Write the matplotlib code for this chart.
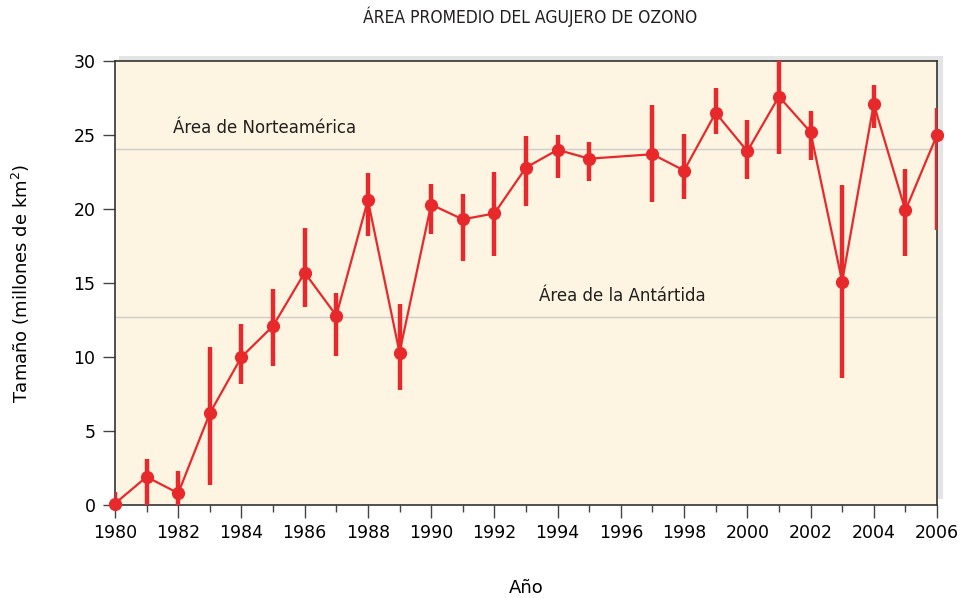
import matplotlib.pyplot as plt
from matplotlib.patches import Rectangle

# datos (1996 sin dato)
years = [1980, 1981, 1982, 1983, 1984, 1985, 1986, 1987, 1988, 1989, 1990,
         1991, 1992, 1993, 1994, 1995, 1997, 1998, 1999, 2000, 2001, 2002,
         2003, 2004, 2005, 2006]
area = [0.1, 1.9, 0.8, 6.2, 10.0, 12.1, 15.7, 12.8, 20.6, 10.3, 20.3,
        19.3, 19.7, 22.8, 24.0, 23.4, 23.7, 22.6, 26.5, 23.9, 27.6, 25.2,
        15.1, 27.1, 19.9, 25.0]
err_hi = [0.9, 3.1, 2.3, 10.7, 12.2, 14.6, 18.7, 14.3, 22.4, 13.6, 21.7,
          21.0, 22.5, 24.9, 25.0, 24.5, 27.0, 25.1, 28.2, 26.0, 30.5, 26.6,
          21.6, 28.4, 22.7, 26.8]
err_lo = [0.0, 0.0, 0.0, 1.35, 8.2, 9.4, 13.4, 10.1, 18.2, 7.8, 18.3,
          16.5, 16.8, 20.2, 22.1, 21.9, 20.5, 20.7, 25.1, 22.0, 23.7, 23.3,
          8.6, 25.5, 16.8, 18.6]

north_america = 24.05
antarctica = 12.7

red = '#e8292b'

fig = plt.figure(figsize=(9.63, 5.98), dpi=100)
ax = fig.add_axes([0.1194, 0.1555, 0.8536, 0.7425])

# sombra gris clara detrás del marco
shadow = Rectangle((0.1194 + 0.004, 0.1555 + 0.01), 0.8536 + 0.002, 0.7425 - 0.002,
                   transform=fig.transFigure, facecolor='#e4e4e4', edgecolor='none',
                   zorder=-1)
fig.patches.append(shadow)

ax.set_facecolor('#fdf4e1')

ax.axhline(north_america, color='#cccccc', lw=1, zorder=1)
ax.axhline(antarctica, color='#cccccc', lw=1, zorder=1)
ax.text(1981.85, 25.5, 'Área de Norteamérica', fontsize=12, color='#231f20',
        va='center', ha='left')
ax.text(1993.4, 14.1, 'Área de la Antártida', fontsize=12, color='#231f20',
        va='center', ha='left')

ax.vlines(years, err_lo, err_hi, color=red, lw=3.2, zorder=3)
ax.plot(years, area, color=red, lw=1.6, marker='o', markersize=8.5, zorder=4,
        clip_on=False)

ax.set_xlim(1980, 2006)
ax.set_ylim(0, 30)
ax.set_xticks(range(1980, 2007, 2))
ax.set_xticks(range(1981, 2006, 2), minor=True)
ax.set_yticks(range(0, 31, 5))
ax.tick_params(axis='x', which='major', length=9, width=1, direction='out',
               labelsize=12.5, pad=5, color='#444444')
ax.tick_params(axis='x', which='minor', length=5, width=1, direction='out',
               color='#444444')
ax.tick_params(axis='y', length=9, width=1, direction='out', labelsize=12.5,
               pad=5, color='#444444')
for s in ax.spines.values():
    s.set_color('#333333')
    s.set_linewidth(1.2)

ax.set_xlabel('Año', fontsize=13, labelpad=26)
ax.set_ylabel('Tamaño (millones de km$^2$)', fontsize=13, labelpad=30)
fig.text(0.55, 0.972, 'ÁREA PROMEDIO DEL AGUJERO DE OZONO', fontsize=12.5,
         ha='center', va='center', fontstretch='condensed', color='#231f20')

fig.savefig('out.png', dpi=100)
